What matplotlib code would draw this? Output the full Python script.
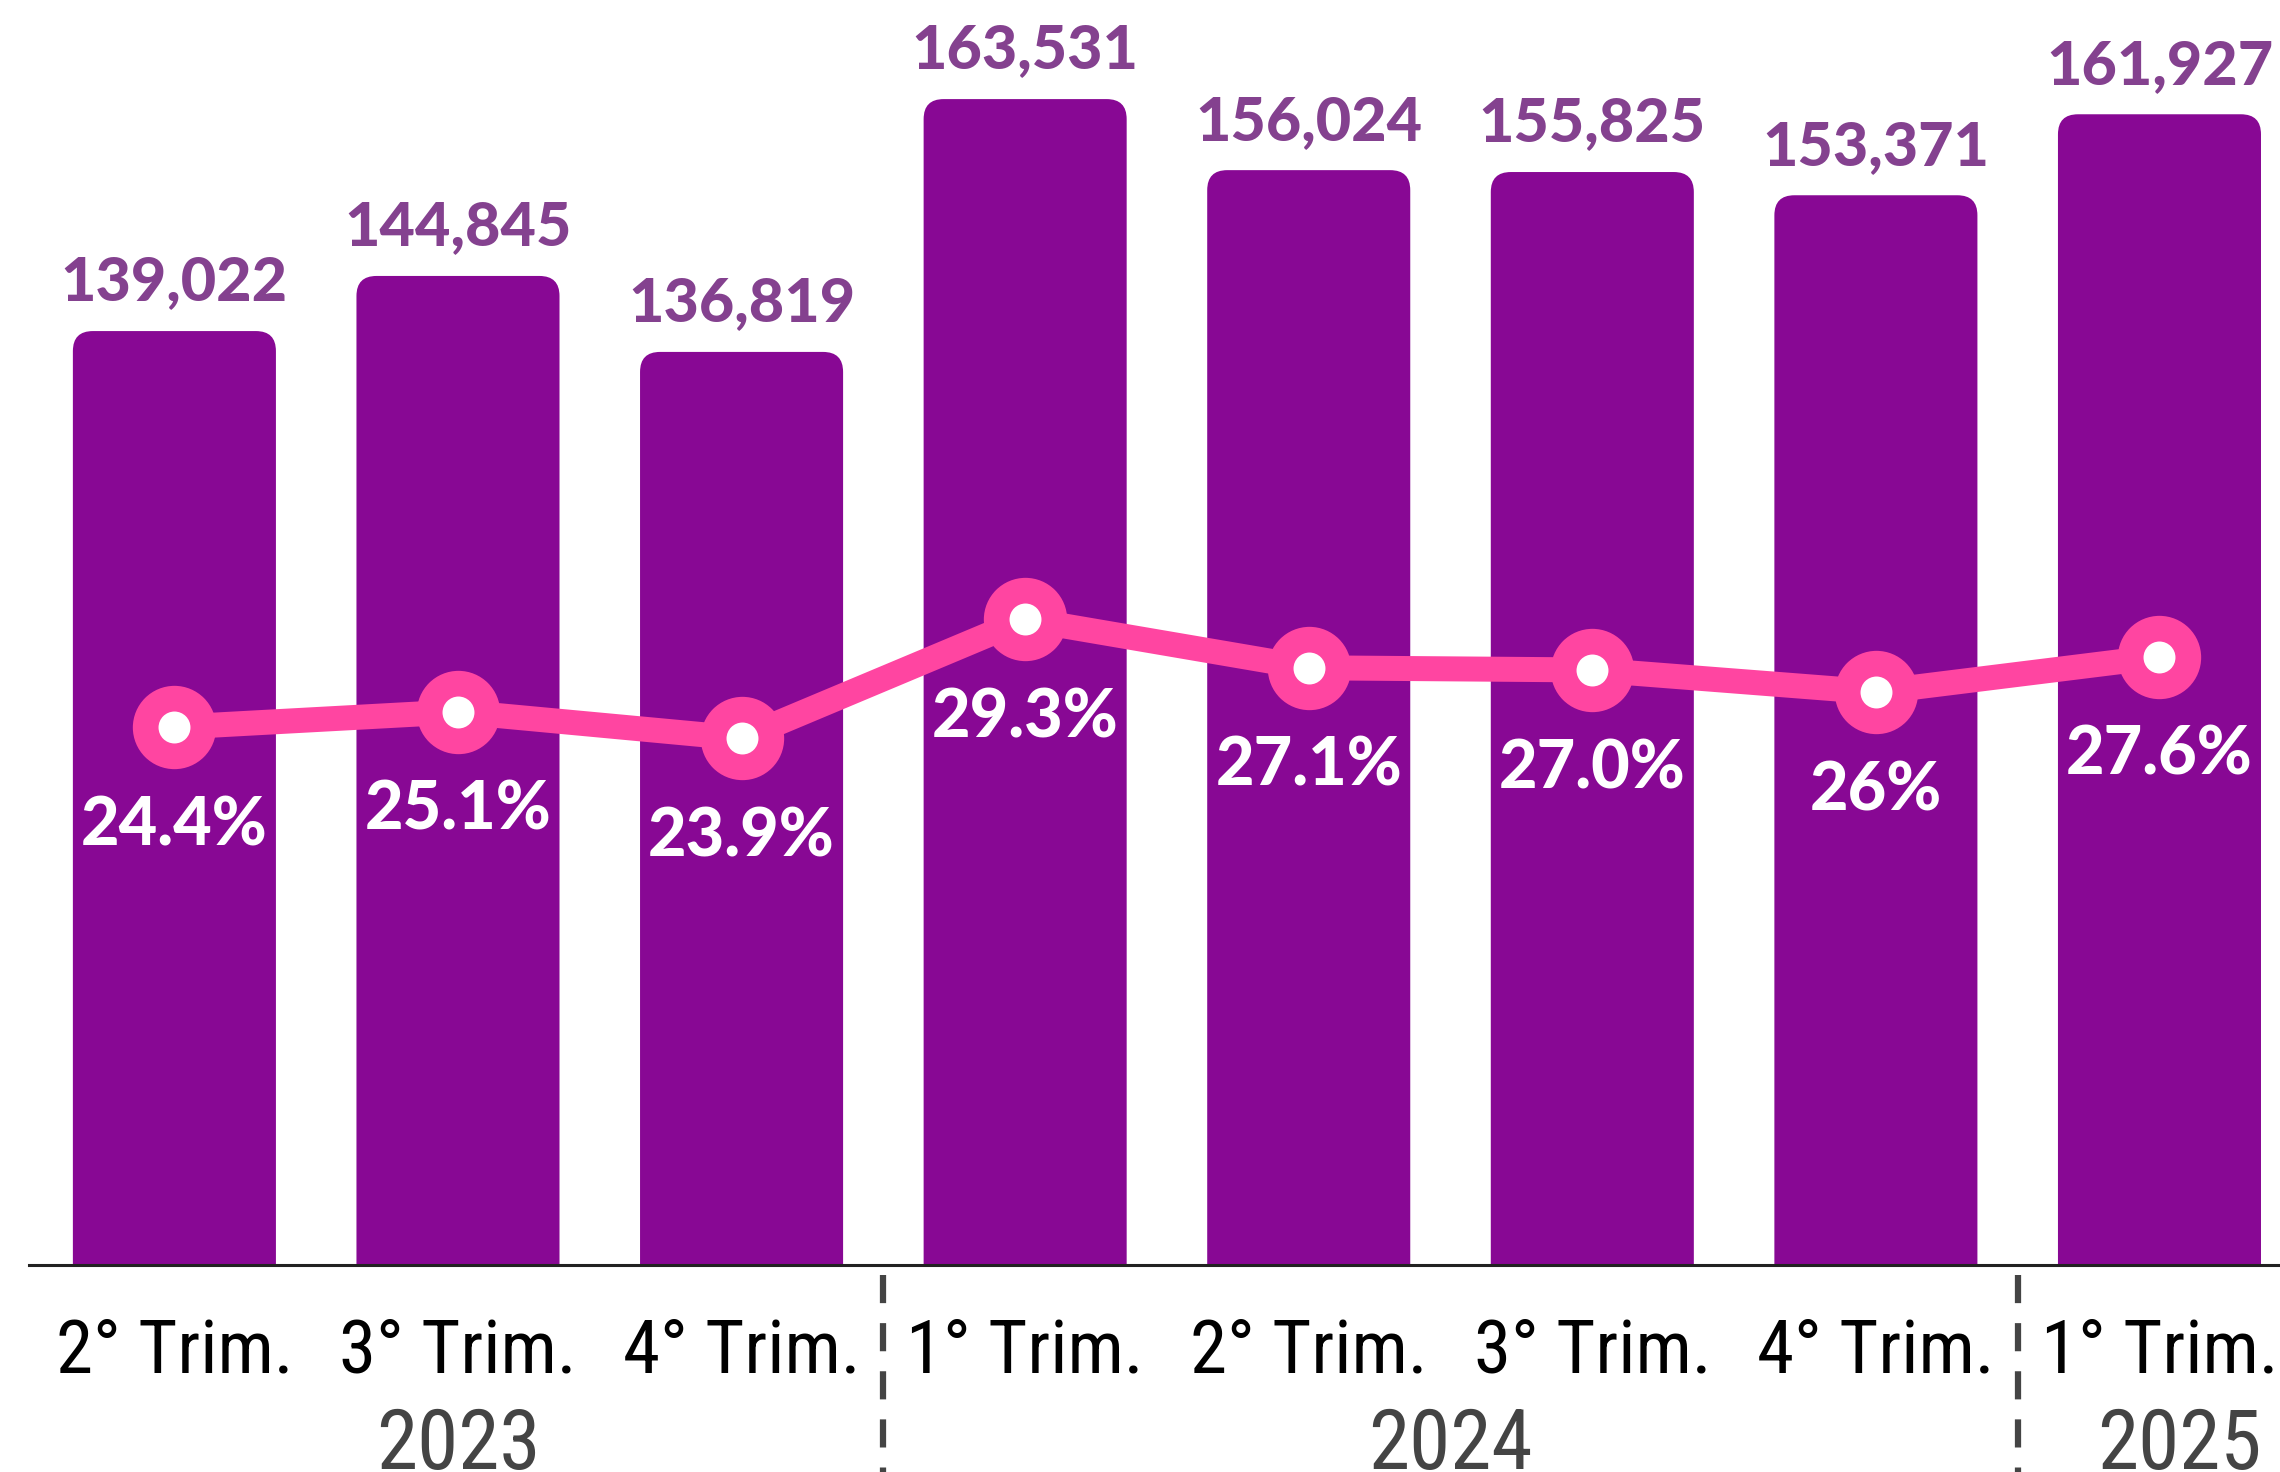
import matplotlib
matplotlib.use("Agg")
import matplotlib.pyplot as plt
from matplotlib.patches import FancyBboxPatch
import matplotlib.transforms as mtransforms
from matplotlib import font_manager

quarters = ["2° Trim.", "3° Trim.", "4° Trim.", "1° Trim.", "2° Trim.", "3° Trim.", "4° Trim.", "1° Trim."]
years = ["2023", "2024", "2025"]
year_centers = [1, 4.5, 7.07]
separators = [2.5, 6.5]
values = [139022, 144845, 136819, 163531, 156024, 155825, 153371, 161927]
value_labels = ["139,022", "144,845", "136,819", "163,531", "156,024", "155,825", "153,371", "161,927"]
pct = [24.4, 25.1, 23.9, 29.3, 27.1, 27.0, 26.0, 27.6]
pct_labels = ["24.4%", "25.1%", "23.9%", "29.3%", "27.1%", "27.0%", "26%", "27.6%"]

BAR = "#880894"
LBL = "#84418F"
PINK = "#FF45A1"

# pick a narrow sans font if one is installed
names = sorted({f.name for f in font_manager.fontManager.ttflist})
narrow = None
for pref in ["Liberation Sans Narrow", "Arial Narrow", "Roboto Condensed", "Open Sans Condensed",
             "Noto Sans Condensed", "DejaVu Sans Condensed"]:
    if pref in names:
        narrow = pref
        break
if narrow is None:
    for n in names:
        if "Narrow" in n or "Condensed" in n:
            narrow = n
            break
if narrow is None or narrow.startswith("DejaVu"):
    tick_font, tick_size, year_size = "Roboto", 47, 54
else:
    tick_font, tick_size, year_size = narrow, 54, 60

W, H, DPI = 22.8, 14.72, 100
fig = plt.figure(figsize=(W, H), dpi=DPI)
ax_bottom = 207 / 1472
ax = fig.add_axes([0, ax_bottom, 1, 1 - ax_bottom])
ax.set_xlim(-0.615, 7.425)
ax.set_ylim(40350, 174000)
ax.axis("off")

x = list(range(len(values)))
bw = 0.716
bars = ax.bar(x, values, width=bw, color=BAR, alpha=0)

fig.canvas.draw()
p0 = ax.transData.transform((0, 0))
p1 = ax.transData.transform((1, 1))
asp = (1 / (p1[1] - p0[1])) / (1 / (p1[0] - p0[0]))
r = 20 / (p1[0] - p0[0])
for b in bars:
    fb = FancyBboxPatch((b.get_x(), 0), b.get_width(), b.get_height(),
                        boxstyle=f"round,pad=0,rounding_size={r}",
                        mutation_aspect=asp, facecolor=BAR, edgecolor="none",
                        zorder=2)
    ax.add_patch(fb)

for xi, v, t in zip(x, values, value_labels):
    ax.annotate(t, (xi, v), xytext=(0, 22), textcoords="offset points",
                ha="center", va="baseline", fontsize=44, fontweight=900,
                color=LBL, family=["Lato", "DejaVu Sans"], zorder=5)

ax.axhline(40350, xmin=29 / 2280, xmax=1, color="#222222", lw=2.2, zorder=6, clip_on=False)

ax2 = ax.twinx()
ax2.set_ylim(0, 57.4)
ax2.axis("off")
ax2.plot(x, pct, color=PINK, lw=18, solid_capstyle="round", zorder=3)
ax2.plot(x, pct, ls="none", marker="o", markersize=60, markerfacecolor=PINK,
         markeredgecolor="none", zorder=4)
ax2.plot(x, pct, ls="none", marker="o", markersize=23, markerfacecolor="white",
         markeredgecolor="none", zorder=5)
for xi, v, t in zip(x, pct, pct_labels):
    ax2.annotate(t, (xi, v), xytext=(0, -85), textcoords="offset points",
                 ha="center", va="baseline", fontsize=48, fontweight=900,
                 color="white", family=["Lato", "DejaVu Sans"], zorder=6)

trans = mtransforms.blended_transform_factory(ax.transData, fig.transFigure)
for xi, q in zip(x, quarters):
    fig.text(xi, 1 - 1352 / 1472, q, transform=trans, ha="center", va="center",
             fontsize=tick_size, color="black", family=[tick_font, "DejaVu Sans"])
for xc, yr in zip(year_centers, years):
    fig.text(xc, 1 - 1446 / 1472, yr, transform=trans, ha="center", va="center",
             fontsize=year_size, color="#444444", family=[tick_font, "DejaVu Sans"])

for s in separators:
    fig.add_artist(plt.Line2D([s, s], [1 - 1275 / 1472, 0], transform=trans,
                              color="#444444", lw=4.5, ls=(0, (4.5, 3.2))))

fig.savefig("out.png", dpi=DPI)
